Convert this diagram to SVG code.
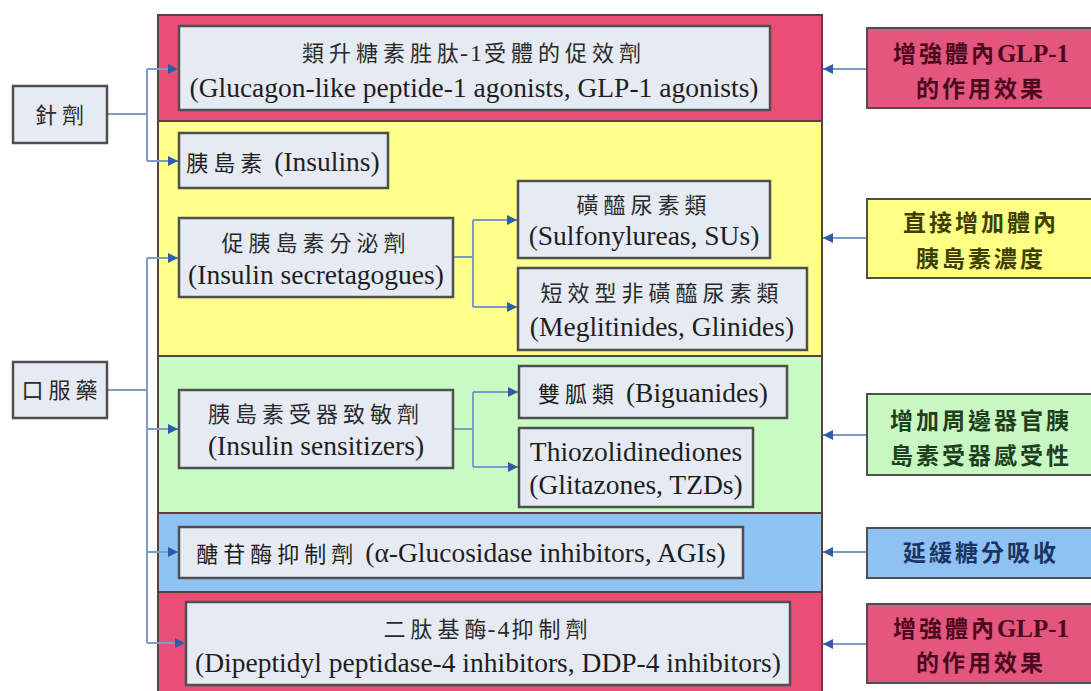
<svg xmlns="http://www.w3.org/2000/svg" width="1091" height="691" viewBox="0 0 1091 691">
<style>
.band{stroke:#5a4040;stroke-width:2}
.node{fill:#E6EAF3;stroke:#4f4f4f;stroke-width:2.5}
.rbox{stroke:#4f4f4f;stroke-width:2}
.zh{font-family:"Liberation Serif","Noto Sans CJK TC",serif;font-size:22px;fill:#2a2a2a;letter-spacing:5px;text-anchor:middle}
.en{font-family:"Liberation Serif",serif;font-size:27.5px;fill:#1e1e1e;text-anchor:middle}
.mix{font-family:"Liberation Serif","Noto Sans CJK TC",serif;font-size:27.5px;fill:#1e1e1e;text-anchor:middle}
.rz{font-family:"Liberation Serif","Noto Sans CJK TC",serif;font-size:23px;font-weight:bold;letter-spacing:3px;text-anchor:middle}
.lat{letter-spacing:2px;font-size:24px}
.tight{letter-spacing:1px}
.conn{fill:none;stroke:#7E9BCB;stroke-width:2}
</style>
<defs>
<marker id="ah" viewBox="0 0 10 10" refX="10" refY="5" markerWidth="11" markerHeight="10" markerUnits="userSpaceOnUse" orient="auto">
<path d="M0,0 L10,5 L0,10 z" fill="#2D5DA6"/>
</marker>
</defs>
<rect width="1091" height="691" fill="#ffffff"/>
<g id="bands">
<rect class="band" x="158" y="15" width="664" height="106" fill="#E94E77"/>
<rect class="band" x="158" y="121" width="664" height="235" fill="#FFFF8C"/>
<rect class="band" x="158" y="356" width="664" height="157" fill="#C8FCC3"/>
<rect class="band" x="158" y="513" width="664" height="79" fill="#8EC4F3"/>
<rect class="band" x="158" y="592" width="664" height="110" fill="#E94E77"/>
</g>
<g id="connectors">
<path class="conn" d="M107,114 H147 M147,69 V161"/>
<path class="conn" d="M147,69 H178" marker-end="url(#ah)"/>
<path class="conn" d="M147,161 H178" marker-end="url(#ah)"/>
<path class="conn" d="M107,390 H147 M147,258 V643"/>
<path class="conn" d="M147,258 H178" marker-end="url(#ah)"/>
<path class="conn" d="M147,429 H178" marker-end="url(#ah)"/>
<path class="conn" d="M147,552 H178" marker-end="url(#ah)"/>
<path class="conn" d="M147,643 H185" marker-end="url(#ah)"/>
<path class="conn" d="M453,257 H473 M473,220 V307"/>
<path class="conn" d="M473,220 H517" marker-end="url(#ah)"/>
<path class="conn" d="M473,307 H517" marker-end="url(#ah)"/>
<path class="conn" d="M453,429 H473 M473,392 V467"/>
<path class="conn" d="M473,392 H518" marker-end="url(#ah)"/>
<path class="conn" d="M473,467 H518" marker-end="url(#ah)"/>
<path class="conn" d="M867,69 H823" marker-end="url(#ah)"/>
<path class="conn" d="M867,238 H823" marker-end="url(#ah)"/>
<path class="conn" d="M867,435 H823" marker-end="url(#ah)"/>
<path class="conn" d="M867,552 H823" marker-end="url(#ah)"/>
<path class="conn" d="M867,644 H823" marker-end="url(#ah)"/>
</g>
<g id="n-injection">
<rect class="node" x="13" y="86" width="94" height="57"/>
<text class="zh" x="62" y="123">針劑</text>
</g>
<g id="n-oral">
<rect class="node" x="13" y="362" width="94" height="56"/>
<text class="zh" x="62" y="398">口服藥</text>
</g>
<g id="n-glp1">
<rect class="node" x="179" y="26" width="591" height="84"/>
<text class="zh" x="474" y="61">類升糖素胜<tspan class="tight">肽</tspan><tspan class="lat">-1</tspan>受體的促效劑</text>
<text class="en" x="474" y="97">(Glucagon-like peptide-1 agonists, GLP-1 agonists)</text>
</g>
<g id="n-insulins">
<rect class="node" x="179" y="133" width="209" height="55"/>
<text class="mix" x="283" y="171"><tspan style="font-size:22px;letter-spacing:5px">胰島素</tspan> (Insulins)</text>
</g>
<g id="n-secretagogues">
<rect class="node" x="179" y="218" width="274" height="79"/>
<text class="zh" x="316" y="251">促胰島素分泌劑</text>
<text class="en" x="316" y="284">(Insulin secretagogues)</text>
</g>
<g id="n-su">
<rect class="node" x="518" y="181" width="252" height="77"/>
<text class="zh" x="644" y="213">磺醯尿素類</text>
<text class="en" x="644" y="245">(Sulfonylureas, SUs)</text>
</g>
<g id="n-glinides">
<rect class="node" x="518" y="268" width="289" height="82"/>
<text class="zh" x="662" y="301">短效型非磺醯尿素類</text>
<text class="en" x="662" y="336">(Meglitinides, Glinides)</text>
</g>
<g id="n-sensitizers">
<rect class="node" x="179" y="390" width="274" height="78"/>
<text class="zh" x="316" y="422">胰島素受器致敏劑</text>
<text class="en" x="316" y="455">(Insulin sensitizers)</text>
</g>
<g id="n-biguanides">
<rect class="node" x="519" y="366" width="268" height="52"/>
<text class="mix" x="653" y="402"><tspan style="font-size:22px;letter-spacing:5px">雙胍類</tspan> (Biguanides)</text>
</g>
<g id="n-tzd">
<rect class="node" x="519" y="428" width="234" height="79"/>
<text class="en" x="636" y="461">Thiozolidinediones</text>
<text class="en" x="636" y="494">(Glitazones, TZDs)</text>
</g>
<g id="n-agi">
<rect class="node" x="179" y="527" width="564" height="51"/>
<text class="mix" x="461" y="562"><tspan style="font-size:22px;letter-spacing:5px">醣苷酶抑制劑</tspan> (α-Glucosidase inhibitors, AGIs)</text>
</g>
<g id="n-dpp4">
<rect class="node" x="186" y="602" width="604" height="83"/>
<text class="zh" x="488" y="637">二肽基<tspan class="tight">酶</tspan><tspan class="lat">-4</tspan>抑制劑</text>
<text class="en" x="488" y="672">(Dipeptidyl peptidase-4 inhibitors, DDP-4 inhibitors)</text>
</g>
<g id="r-glp1-top">
<rect class="rbox" x="867" y="28" width="230" height="80" fill="#E3567D"/>
<text class="rz" x="981" y="62" fill="#4d0a1e">增強體內<tspan style="letter-spacing:0;font-size:25px">GLP-1</tspan></text>
<text class="rz" x="981" y="97" fill="#4d0a1e">的作用效果</text>
</g>
<g id="r-insulin">
<rect class="rbox" x="867" y="199" width="230" height="79" fill="#FFFF86"/>
<text class="rz" x="981" y="231" fill="#3f3f00">直接增加體內</text>
<text class="rz" x="981" y="267" fill="#3f3f00">胰島素濃度</text>
</g>
<g id="r-sensitivity">
<rect class="rbox" x="867" y="394" width="230" height="81" fill="#C8F7C2"/>
<text class="rz" x="981" y="429" fill="#1f3f1f">增加周邊器官胰</text>
<text class="rz" x="981" y="464" fill="#1f3f1f">島素受器感受性</text>
</g>
<g id="r-absorb">
<rect class="rbox" x="867" y="528" width="230" height="50" fill="#8EC2F2"/>
<text class="rz" x="981" y="561" fill="#1a3564">延緩糖分吸收</text>
</g>
<g id="r-glp1-bottom">
<rect class="rbox" x="867" y="604" width="230" height="79" fill="#E3567D"/>
<text class="rz" x="981" y="637" fill="#4d0a1e">增強體內<tspan style="letter-spacing:0;font-size:25px">GLP-1</tspan></text>
<text class="rz" x="981" y="671" fill="#4d0a1e">的作用效果</text>
</g>
</svg>
